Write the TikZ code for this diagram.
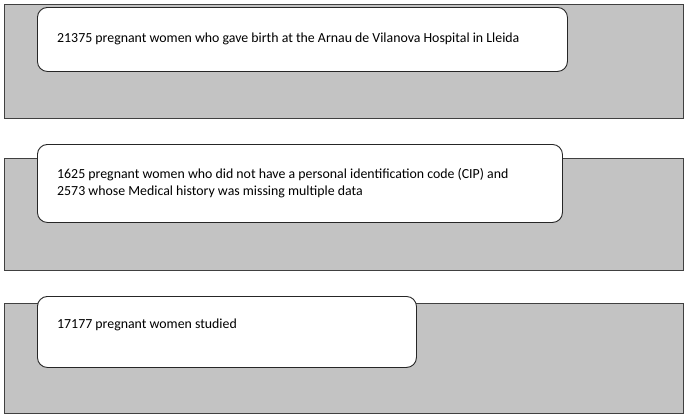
\documentclass[tikz,border=0pt]{standalone}
\usepackage{fontspec}
\setmainfont{Carlito}
\begin{document}
\begin{tikzpicture}[x=1pt,y=-1pt,
  band/.style={draw=black!75, fill=black!23.5, line width=0.9pt, anchor=north west, inner sep=0pt},
  card/.style={draw=black!85, fill=white, line width=0.9pt, rounded corners=10pt, anchor=north west, inner sep=0pt},
  lbl/.style={anchor=west, align=left, inner sep=0pt, font=\fontsize{13.85}{17}\selectfont}]
\useasboundingbox (0,0) rectangle (685,416);
\node[band, minimum width=679pt, minimum height=114pt] (b1) at (4,4) {};
\node[band, minimum width=679pt, minimum height=112pt] (b2) at (4,158) {};
\node[band, minimum width=679pt, minimum height=110pt] (b3) at (4,303) {};
\node[card, minimum width=530pt, minimum height=64pt] (c1) at (37,7) {};
\node[card, minimum width=525pt, minimum height=78pt] (c2) at (37,144) {};
\node[card, minimum width=379pt, minimum height=71pt] (c3) at (37,296) {};
\node[lbl] (t1) at (57,39) {21375 pregnant women who gave birth at the Arnau de Vilanova Hospital in Lleida};
\node[lbl] (t2) at (57,183) {1625 pregnant women who did not have a personal identification code (CIP) and\\2573 whose Medical history was missing multiple data};
\node[lbl] (t3) at (57,325) {17177 pregnant women studied};
\end{tikzpicture}
\end{document}
